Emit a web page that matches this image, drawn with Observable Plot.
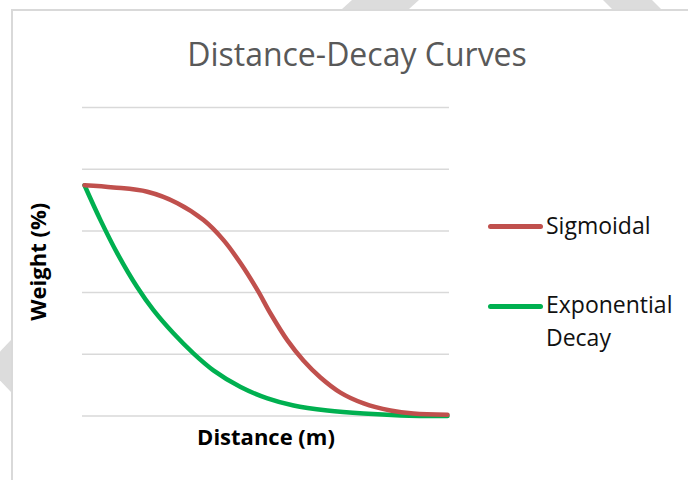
<!DOCTYPE html>
<html><head><meta charset="utf-8">
<script src="https://cdn.jsdelivr.net/npm/d3@7"></script>
<script src="https://cdn.jsdelivr.net/npm/@observablehq/plot@0.6"></script>
<style>
body{margin:0;background:#fff;}
#wrap{position:relative;width:688px;height:480px;overflow:hidden;font-family:"Open Sans",sans-serif;}
#frame{position:absolute;left:11px;top:9px;width:720px;height:520px;border:2px solid #d9d9d9;box-sizing:border-box;}
.deco{position:absolute;background:#dcdcdc;}
#plot{position:absolute;left:0;top:0;}
.sw{position:absolute;left:488px;width:55px;height:5px;border-radius:3px;}
.lt{position:absolute;left:546px;font-size:23px;line-height:33px;color:#111;white-space:nowrap;}
</style></head>
<body>
<div id="wrap">
  <div class="deco" style="left:342px;top:0;width:77px;height:9px;clip-path:polygon(10px 0,77px 0,67px 100%,0 100%);"></div>
  <div class="deco" style="left:603px;top:0;width:58px;height:9px;clip-path:polygon(0 0,49px 0,58px 100%,9px 100%);"></div>
  <div class="deco" style="left:0;top:340px;width:11px;height:52px;clip-path:polygon(100% 0,100% 100%,0 78%,0 22%);"></div>
  <div id="frame"></div>
  <div id="plot"></div>
  <div id="legend"></div>
</div>
<script>
const title = "Distance-Decay Curves";
const xLabel = "Distance (m)";
const yLabel = "Weight (%)";
const gridTicks = [0, 20, 40, 60, 80, 100];

const seriesNames = ["Sigmoidal", "Exponential Decay"];
const seriesColors = ["#C0504D", "#00B050"];

const sigX = [0, 8, 17.3, 25.6, 32.8, 38.3, 43, 47.7, 51.2, 55.9, 60.3, 65, 70.5, 76.9, 84.3, 90.6, 100];
const sigY = [74.8, 74.1, 72.7, 69.0, 63.5, 57.0, 49.5, 40.7, 33.3, 24.5, 18.0, 12.5, 7.6, 4.1, 1.8, 0.8, 0.4];
const expX = [0, 4.4, 9, 14.5, 19, 24.5, 30, 35.5, 43, 50.4, 57.6, 66.9, 76.9, 87.1, 100];
const expY = [74.8, 63.5, 52.8, 41.8, 34.3, 26.8, 20.3, 14.8, 9.4, 5.7, 3.4, 1.8, 0.8, 0.2, 0];

const sig = sigX.map((x, i) => ({x, y: sigY[i]}));
const exp = expX.map((x, i) => ({x, y: expY[i]}));

const chart = Plot.plot({
  width: 688,
  height: 480,
  marginLeft: 82,
  marginRight: 239,
  marginTop: 107,
  marginBottom: 64.5,
  style: {background: "transparent", fontFamily: "Open Sans, sans-serif"},
  x: {domain: [0, 100], insetLeft: 2, insetRight: 2, axis: null},
  y: {domain: [0, 100], axis: null},
  marks: [
    Plot.ruleY(gridTicks, {stroke: "#d9d9d9", strokeWidth: 1.5}),
    Plot.line(exp, {x: "x", y: "y", stroke: seriesColors[1], strokeWidth: 4.5, curve: "catmull-rom", strokeLinecap: "round", strokeLinejoin: "round"}),
    Plot.line(sig, {x: "x", y: "y", stroke: seriesColors[0], strokeWidth: 4.5, curve: "catmull-rom", strokeLinecap: "round", strokeLinejoin: "round"}),
    Plot.text([title], {text: d => d, frameAnchor: "top", dx: 91, dy: -52, fontSize: 32, fill: "#595959", textAnchor: "middle", lineAnchor: "middle"}),
    Plot.text([xLabel], {text: d => d, frameAnchor: "bottom", dy: 22, fontSize: 22, fontWeight: "bold", fill: "#000", textAnchor: "middle", lineAnchor: "middle"}),
    Plot.text([yLabel], {text: d => d, frameAnchor: "left", dx: -44, rotate: -90, fontSize: 22, fontWeight: "bold", fill: "#000", textAnchor: "middle", lineAnchor: "middle"})
  ]
});
document.getElementById("plot").appendChild(chart);

const legend = document.getElementById("legend");
const swatchY = [226, 306];
const textTop = [208.5, 287.5];
seriesNames.forEach((name, i) => {
  const sw = document.createElement("div");
  sw.className = "sw";
  sw.style.background = seriesColors[i];
  sw.style.top = (swatchY[i] - 2.5) + "px";
  legend.appendChild(sw);
  const t = document.createElement("div");
  t.className = "lt";
  t.style.top = textTop[i] + "px";
  t.innerHTML = i === 1 ? "Exponential<br>Decay" : name;
  legend.appendChild(t);
});
</script>
</body></html>
